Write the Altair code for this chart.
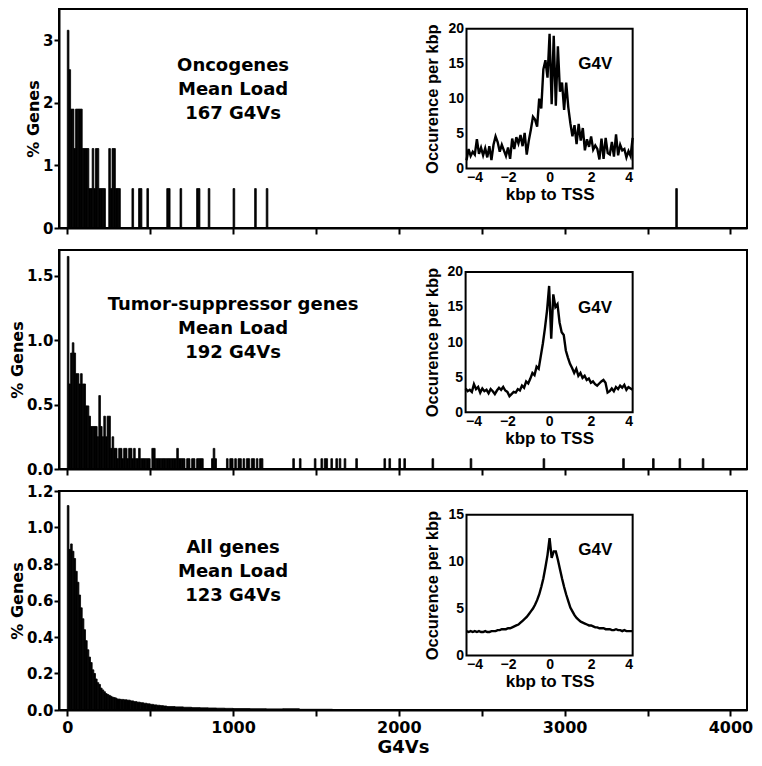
import altair as alt
import pandas as pd

# ---------------- data ----------------
# Oncogenes histogram: bin start (G4Vs, bin width 10) and % genes
onc_start = [0, 10, 20, 30, 40, 50, 60, 70, 80, 90, 100, 110, 120, 130, 140, 150, 160, 170, 180,
             190, 200, 210, 220, 250, 260, 270, 280, 290, 300, 310, 390, 430, 440, 480, 600, 610,
             680, 780, 790, 850, 1000, 1130, 1200, 3670]
onc_pct = [3.16, 2.53, 1.90, 1.90, 1.27, 1.90, 1.90, 1.90, 1.90, 1.27, 1.27, 1.27, 1.27, 0.63, 0.63,
           1.27, 0.63, 1.27, 1.27, 0.63, 0.63, 0.63, 0.63, 1.27, 0.63, 1.27, 1.27, 0.63, 0.63, 0.63,
           0.63, 0.63, 0.63, 0.63, 0.63, 0.63, 0.63, 0.63, 0.63, 0.63, 0.63, 0.63, 0.63, 0.63]

# Tumor-suppressor genes histogram
tsg_start = [0, 10, 20, 30, 40, 50, 60, 70, 80, 90, 100, 110, 120, 130, 140, 150, 160, 170, 180, 190,
             200, 210, 220, 230, 240, 250, 260, 270, 280, 290, 300, 310, 320, 330, 340, 350, 360, 370,
             380, 390, 400, 410, 420, 430, 440, 450, 460, 470, 480, 490, 510, 520, 530, 540, 550, 560,
             570, 580, 590, 600, 610, 620, 630, 640, 650, 660, 670, 680, 690, 700, 720, 730, 750, 760,
             780, 790, 800, 810, 870, 880, 890, 960, 980, 990, 1010, 1030, 1040, 1060, 1080, 1090,
             1110, 1120, 1140, 1160, 1170, 1360, 1400, 1490, 1530, 1550, 1560, 1590, 1620, 1640,
             1670, 1740, 1910, 1940, 2000, 2030, 2200, 2430, 2870, 3350, 3530, 3690, 3830]
tsg_pct = [1.65, 0.66, 0.90, 0.98, 0.90, 0.74, 0.74, 0.66, 0.74, 0.66, 0.66, 0.49, 0.49, 0.41, 0.33,
           0.33, 0.33, 0.33, 0.25, 0.57, 0.33, 0.25, 0.41, 0.25, 0.41, 0.41, 0.16, 0.25, 0.16, 0.16,
           0.08, 0.16, 0.16, 0.08, 0.16, 0.16, 0.08, 0.16, 0.16, 0.08, 0.16, 0.08, 0.08, 0.16, 0.08,
           0.08, 0.08, 0.08, 0.08, 0.08, 0.16, 0.16, 0.08, 0.08, 0.08, 0.08, 0.08, 0.08, 0.08, 0.08,
           0.08, 0.08, 0.08, 0.08, 0.08, 0.16, 0.08, 0.08, 0.08, 0.08, 0.08, 0.08, 0.08, 0.08, 0.08,
           0.08, 0.08, 0.08, 0.08, 0.16, 0.08, 0.08, 0.08, 0.08, 0.08, 0.08, 0.08, 0.08, 0.08, 0.08,
           0.08, 0.08, 0.08, 0.08, 0.08, 0.08, 0.08, 0.08, 0.08, 0.08, 0.08, 0.08, 0.08, 0.08, 0.08,
           0.08, 0.08, 0.08, 0.08, 0.08, 0.08, 0.08, 0.08, 0.08, 0.08, 0.08, 0.08]

# All genes histogram: bin edges and % genes per bin
all_edges = [0, 10, 20, 30, 40, 50, 60, 70, 80, 90, 100, 110, 120, 130, 140, 150, 160, 170, 180, 190,
             200, 210, 220, 230, 240, 250, 260, 270, 280, 290, 300, 320, 340, 360, 380, 400, 420, 440,
             460, 480, 500, 520, 540, 560, 580, 600, 650, 700, 750, 800, 850, 900, 950, 1000, 1100,
             1200, 1300, 1400, 1600]
all_pct = [1.12, 0.88, 0.91, 0.87, 0.83, 0.76, 0.70, 0.63, 0.56, 0.50,
           0.44, 0.38, 0.33, 0.29, 0.26, 0.22, 0.20, 0.17, 0.15, 0.14,
           0.12, 0.11, 0.10, 0.09, 0.085, 0.08, 0.075, 0.07, 0.068, 0.065,
           0.06, 0.058, 0.056, 0.054, 0.05, 0.046, 0.043, 0.04, 0.037, 0.034, 0.031, 0.028, 0.026,
           0.024, 0.022,
           0.019, 0.017, 0.015, 0.013, 0.012, 0.011, 0.010, 0.009,
           0.008, 0.007, 0.006, 0.007, 0.004]

# Insets: occurrence per kbp vs kbp to TSS
kbp = [round(-4 + 0.1 * i, 1) for i in range(81)]
onc_occ = [1.2, 2.8, 1.8, 2.4, 2.0, 4.2, 2.1, 3.0, 1.9, 2.9, 1.6, 3.2, 1.2, 3.4, 4.6, 3.8, 2.4, 3.4,
           2.6, 1.8, 3.0, 1.4, 4.3, 2.8, 4.5, 3.6, 4.8, 3.2, 5.1, 2.0, 4.0, 5.6, 7.4, 7.0, 6.0, 10.0,
           8.6, 14.2, 15.5, 13.0, 19.3, 9.2, 19.0, 9.0, 17.5, 11.0, 12.3, 8.4, 12.3, 8.8, 6.5, 4.6,
           6.2, 3.5, 6.4, 4.0, 5.8, 2.6, 4.2, 3.1, 4.6, 2.7, 3.3, 2.8, 1.3, 4.3, 1.4, 4.4, 2.2, 2.0,
           3.8, 1.7, 4.9, 1.9, 3.4, 2.6, 2.8, 1.6, 2.5, 1.8, 4.4]
tsg_occ = [3.4, 3.0, 3.2, 2.9, 4.0, 3.3, 3.6, 2.8, 3.4, 3.0, 3.2, 2.7, 3.3, 3.0, 2.6, 3.1, 3.5, 3.2,
           3.6, 3.1, 2.9, 2.3, 2.6, 2.9, 2.8, 3.3, 3.1, 3.8, 3.5, 4.4, 4.1, 4.8, 5.6, 5.3, 6.5, 6.2,
           8.0, 9.8, 12.0, 14.5, 18.0, 10.5, 16.8, 15.0, 15.4, 12.8, 11.4, 11.0, 8.8, 7.8, 6.9, 6.3,
           5.6, 6.2, 5.2, 5.6, 4.9, 5.2, 4.6, 4.8, 4.2, 4.4, 4.0, 3.8, 4.1, 4.4, 4.6, 4.2, 2.8, 3.0,
           3.4, 3.0, 3.6, 3.3, 3.8, 3.5, 3.9, 3.2, 3.6, 3.4, 3.2]
all_occ = [2.6, 2.5, 2.6, 2.5, 2.6, 2.5, 2.6, 2.5, 2.5, 2.6, 2.5, 2.5, 2.6, 2.6, 2.6, 2.7, 2.7, 2.8,
           2.8, 2.8, 2.9, 2.9, 3.0, 3.1, 3.2, 3.3, 3.5, 3.7, 3.9, 4.1, 4.4, 4.7, 5.0, 5.4, 5.9, 6.5,
           7.3, 8.2, 9.4, 10.7, 12.5, 10.4, 11.1, 11.1, 10.2, 9.2, 8.2, 7.3, 6.5, 5.8, 5.1, 4.7, 4.3,
           4.0, 3.8, 3.6, 3.5, 3.4, 3.3, 3.2, 3.2, 3.1, 3.0, 3.0, 2.9, 2.9, 2.9, 2.8, 2.8, 2.8, 2.7,
           2.7, 2.8, 2.7, 2.7, 2.6, 2.7, 2.6, 2.6, 2.6, 2.6]

panel_labels = [["Oncogenes", "Mean Load", "167 G4Vs"],
                ["Tumor-suppressor genes", "Mean Load", "192 G4Vs"],
                ["All genes", "Mean Load", "123 G4Vs"]]
x_ticks = [0, 500, 1000, 1500, 2000, 2500, 3000, 3500, 4000]

# ---------------- layout ----------------
W, H = 688, 219
MAIN_FONT = "DejaVu Sans"
INSET_FONT = "Liberation Sans"


def panel(starts, ends, pct, ydom, yvals, yfmt, lines, label_y, occ, iymax, iyvals, ibox, g4v_y,
          bottom):
    hist = pd.DataFrame({"start": starts, "end": ends, "pct": pct})
    if bottom:
        xaxis = alt.Axis(values=x_ticks, tickSize=6, labelPadding=3, labelFontSize=16, format="d",
                         labelExpr="datum.value % 1000 == 0 ? datum.label : ''",
                         title="G4Vs", titleFontSize=18, titlePadding=3)
    else:
        xaxis = alt.Axis(values=x_ticks, tickSize=6, labels=False, title=None)
    xenc = alt.X("start:Q", scale=alt.Scale(domain=[-50, 4100], nice=False, zero=False), axis=xaxis)
    yenc = alt.Y("pct:Q", scale=alt.Scale(domain=ydom, nice=False),
                 axis=alt.Axis(values=yvals, format=yfmt, tickSize=5, labelPadding=1,
                               titlePadding=1, title="% Genes"))
    bars = alt.Chart(hist).transform_calculate(base="0").mark_bar(
        color="black", stroke="black", strokeWidth=0.8).encode(
        x=xenc, x2="end:Q", y=yenc, y2="base:Q")
    lab = alt.Chart(pd.DataFrame({"start": [1000], "pct": [label_y]})).mark_text(
        font=MAIN_FONT, fontSize=18, fontWeight="bold", lineHeight=24, align="center",
        baseline="middle", color="black").encode(x=xenc, y=yenc, text=alt.value(lines))
    main = alt.layer(bars, lab)

    L, R, T, B = W * ibox[0], W * ibox[1], H * ibox[2], H * ibox[3]
    ix = alt.X("kbp:Q", scale=alt.Scale(domain=[-4, 4], range=[L, R], nice=False, zero=False),
               axis=alt.Axis(orient="bottom", offset=B - H, values=[-4, -2, 0, 2, 4],
                             domain=False, ticks=False, tickSize=0, labelPadding=2,
                             labelFont=INSET_FONT, labelFontSize=14, labelFontWeight="bold",
                             title="kbp to TSS", titleFont=INSET_FONT, titleFontSize=17,
                             titlePadding=2))
    iy = alt.Y("occ:Q", scale=alt.Scale(domain=[0, iymax], range=[B, T], nice=False),
               axis=alt.Axis(orient="left", offset=-L, values=iyvals, domain=False, ticks=False,
                             tickSize=0, labelPadding=3, labelFont=INSET_FONT, labelFontSize=14,
                             labelFontWeight="bold", title="Occurence per kbp",
                             titleFont=INSET_FONT, titleFontSize=16.5, titlePadding=7))
    line = alt.Chart(pd.DataFrame({"kbp": kbp, "occ": occ})).mark_line(
        color="black", strokeWidth=2.4).encode(x=ix, y=iy)
    box = alt.Chart(pd.DataFrame({"kbp": [-4], "kbp2": [4], "occ": [0], "occ2": [iymax]})).mark_rect(
        fillOpacity=0, stroke="black", strokeWidth=2).encode(x=ix, x2="kbp2:Q", y=iy, y2="occ2:Q")
    g4v = alt.Chart(pd.DataFrame({"kbp": [2.2], "occ": [g4v_y]})).mark_text(
        font=INSET_FONT, fontSize=17, fontWeight="bold", align="center", baseline="middle",
        color="black").encode(x=ix, y=iy, text=alt.value("G4V"))
    inset = alt.layer(line, box, g4v)

    return alt.layer(main, inset).resolve_scale(x="independent", y="independent").resolve_axis(
        x="independent", y="independent").properties(width=W, height=H)


p1 = panel(onc_start, [s + 10 for s in onc_start], onc_pct, [0, 3.5], [0, 1, 2, 3], "d",
           panel_labels[0], 2.59, onc_occ, 20, [0, 5, 10, 15, 20],
           (0.5923, 0.8338, 0.0905, 0.7285), 14.9, False)
p2 = panel(tsg_start, [s + 10 for s in tsg_start], tsg_pct, [0, 1.7], [0, 0.5, 1.0, 1.5], ".1f",
           panel_labels[1], 1.27, tsg_occ, 20, [0, 5, 10, 15, 20],
           (0.591, 0.8338, 0.10, 0.741), 14.9, False)
p3 = panel(all_edges[:-1], all_edges[1:], all_pct, [0, 1.2], [0, 0.2, 0.4, 0.6, 0.8, 1.0, 1.2],
           ".1f", panel_labels[2], 0.885, all_occ, 15, [0, 5, 10, 15],
           (0.5923, 0.8338, 0.1086, 0.751), 11.2, True)

chart = alt.vconcat(p1, p2, p3, spacing=22, bounds="flush").properties(
    padding=0
).configure_view(
    stroke="black", strokeWidth=2
).configure_axis(
    grid=False, domainColor="black", domainWidth=2, tickColor="black", tickWidth=2,
    labelColor="black", titleColor="black", labelFont=MAIN_FONT, titleFont=MAIN_FONT,
    labelFontWeight="bold", titleFontWeight="bold", labelFontSize=15, titleFontSize=16
)

chart.save("out.html", embed_options={"renderer": "svg", "actions": False})
